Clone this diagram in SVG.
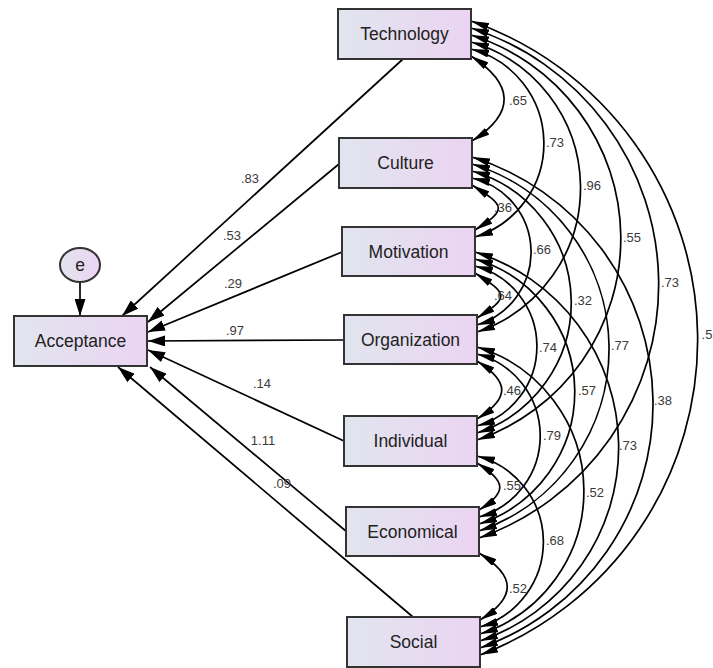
<svg xmlns="http://www.w3.org/2000/svg" width="713" height="668" viewBox="0 0 713 668">
<style>
.box{stroke:#333;stroke-width:2;fill:url(#g)}
.nt{font-family:"Liberation Sans",Arial,sans-serif;font-size:17.5px;fill:#222;text-anchor:middle}
.lb{font-family:"Liberation Sans",Arial,sans-serif;font-size:13px;fill:#3a3a3a;text-anchor:middle}
.ln{stroke:#000;stroke-width:1.7;fill:none}
.st{marker-end:url(#ahb)}
.cv{marker-start:url(#ah);marker-end:url(#ah)}
</style>
<defs>
<linearGradient id="g" x1="0" y1="0" x2="1" y2="0">
<stop offset="0" stop-color="#e1e5ee"/>
<stop offset="1" stop-color="#ebd4f2"/>
</linearGradient>
<marker id="ah" viewBox="0 0 18 8" refX="18" refY="4" markerWidth="18" markerHeight="8" markerUnits="userSpaceOnUse" orient="auto-start-reverse"><path d="M0,0 L18,4 L0,8 z" fill="#000"/></marker>
<marker id="ahb" viewBox="0 0 17 11" refX="17" refY="5.5" markerWidth="17" markerHeight="11" markerUnits="userSpaceOnUse" orient="auto"><path d="M0,0 L17,5.5 L0,11 z" fill="#000"/></marker>
</defs>
<rect width="713" height="668" fill="#fff"/>
<g id="connectors">
<path class="ln st" d="M80,282 L80,316"/>
<path class="ln st" d="M403,59 L122,316"/>
<path class="ln st" d="M339,164 L148,322"/>
<path class="ln st" d="M342,252 L148,332"/>
<path class="ln st" d="M344,340 L148,341"/>
<path class="ln st" d="M344,441 L148,350"/>
<path class="ln st" d="M347,532 L150,367"/>
<path class="ln st" d="M413,617 L118,367"/>
<path class="ln cv" d="M471,56 C514,84 516,113 472,141"/>
<path class="ln cv" d="M471,49 A97.8,97.8 0 0 1 475,237"/>
<path class="ln cv" d="M471,42 A152,152 0 0 1 477,332"/>
<path class="ln cv" d="M471,35 A213.1,213.1 0 0 1 477,440"/>
<path class="ln cv" d="M471,28 A268.9,268.9 0 0 1 479,538"/>
<path class="ln cv" d="M471,21 A337.3,337.3 0 0 1 480,655"/>
<path class="ln cv" d="M472,185 C505,206 508,209 475,230"/>
<path class="ln cv" d="M472,178 A76.1,76.1 0 0 1 477,325"/>
<path class="ln cv" d="M472,171 A137.1,137.1 0 0 1 477,433"/>
<path class="ln cv" d="M472,164 A192.9,192.9 0 0 1 479,531"/>
<path class="ln cv" d="M472,157 A258.8,258.8 0 0 1 480,648"/>
<path class="ln cv" d="M475,273 C508,294 510,297 477,318"/>
<path class="ln cv" d="M475,266 A83,83 0 0 1 477,426"/>
<path class="ln cv" d="M475,259 A138.7,138.7 0 0 1 479,524"/>
<path class="ln cv" d="M475,252 A204.6,204.6 0 0 1 480,641"/>
<path class="ln cv" d="M477,361 C510,382 510,398 477,419"/>
<path class="ln cv" d="M477,354 A84.5,84.5 0 0 1 479,517"/>
<path class="ln cv" d="M477,347 A150.4,150.4 0 0 1 480,634"/>
<path class="ln cv" d="M477,463 C506,481 508,492 479,510"/>
<path class="ln cv" d="M477,456 A88.8,88.8 0 0 1 480,627"/>
<path class="ln cv" d="M479,553 C516,576 517,597 480,620"/>
<g id="labels">
<text class="lb" x="250" y="182.5">.83</text>
<text class="lb" x="232" y="239.5">.53</text>
<text class="lb" x="233" y="287.5">.29</text>
<text class="lb" x="235" y="334.5">.97</text>
<text class="lb" x="262" y="387.5">.14</text>
<text class="lb" x="263" y="444.5">1.11</text>
<text class="lb" x="282" y="487.5">.09</text>
<text class="lb" x="518" y="104.5">.65</text>
<text class="lb" x="555" y="146.5">.73</text>
<text class="lb" x="592" y="189.5">.96</text>
<text class="lb" x="632" y="241.5">.55</text>
<text class="lb" x="670" y="286.5">.73</text>
<text class="lb" x="707" y="338.5">.5</text>
<text class="lb" x="503" y="211.5">.36</text>
<text class="lb" x="542" y="253.5">.66</text>
<text class="lb" x="583" y="304.5">.32</text>
<text class="lb" x="620" y="349.5">.77</text>
<text class="lb" x="663" y="404.5">.38</text>
<text class="lb" x="503" y="299.5">.64</text>
<text class="lb" x="548" y="351.5">.74</text>
<text class="lb" x="587" y="394.5">.57</text>
<text class="lb" x="628" y="449.5">.73</text>
<text class="lb" x="512" y="394.5">.46</text>
<text class="lb" x="552" y="439.5">.79</text>
<text class="lb" x="595" y="496.5">.52</text>
<text class="lb" x="512" y="489.5">.55</text>
<text class="lb" x="555" y="544.5">.68</text>
<text class="lb" x="518" y="592.5">.52</text>
</g>
</g>
<g id="e"><ellipse cx="80" cy="265" rx="20" ry="17" fill="url(#g)" stroke="#333" stroke-width="2"/><text class="nt" x="80" y="271">e</text></g>
<g id="acceptance"><rect class="box" x="14" y="316" width="133" height="50"/><text class="nt" x="80.5" y="347">Acceptance</text></g>
<g id="technology"><rect class="box" x="338" y="9" width="133" height="50"/><text class="nt" x="404.5" y="40">Technology</text></g>
<g id="culture"><rect class="box" x="339" y="138" width="133" height="50"/><text class="nt" x="405.5" y="169">Culture</text></g>
<g id="motivation"><rect class="box" x="342" y="227" width="133" height="49"/><text class="nt" x="408.5" y="258">Motivation</text></g>
<g id="organization"><rect class="box" x="344" y="315" width="133" height="49"/><text class="nt" x="410.5" y="346">Organization</text></g>
<g id="individual"><rect class="box" x="344" y="416" width="133" height="50"/><text class="nt" x="410.5" y="447">Individual</text></g>
<g id="economical"><rect class="box" x="346" y="507" width="133" height="49"/><text class="nt" x="412.5" y="538">Economical</text></g>
<g id="social"><rect class="box" x="347" y="617" width="133" height="50"/><text class="nt" x="413.5" y="648">Social</text></g>
</svg>
